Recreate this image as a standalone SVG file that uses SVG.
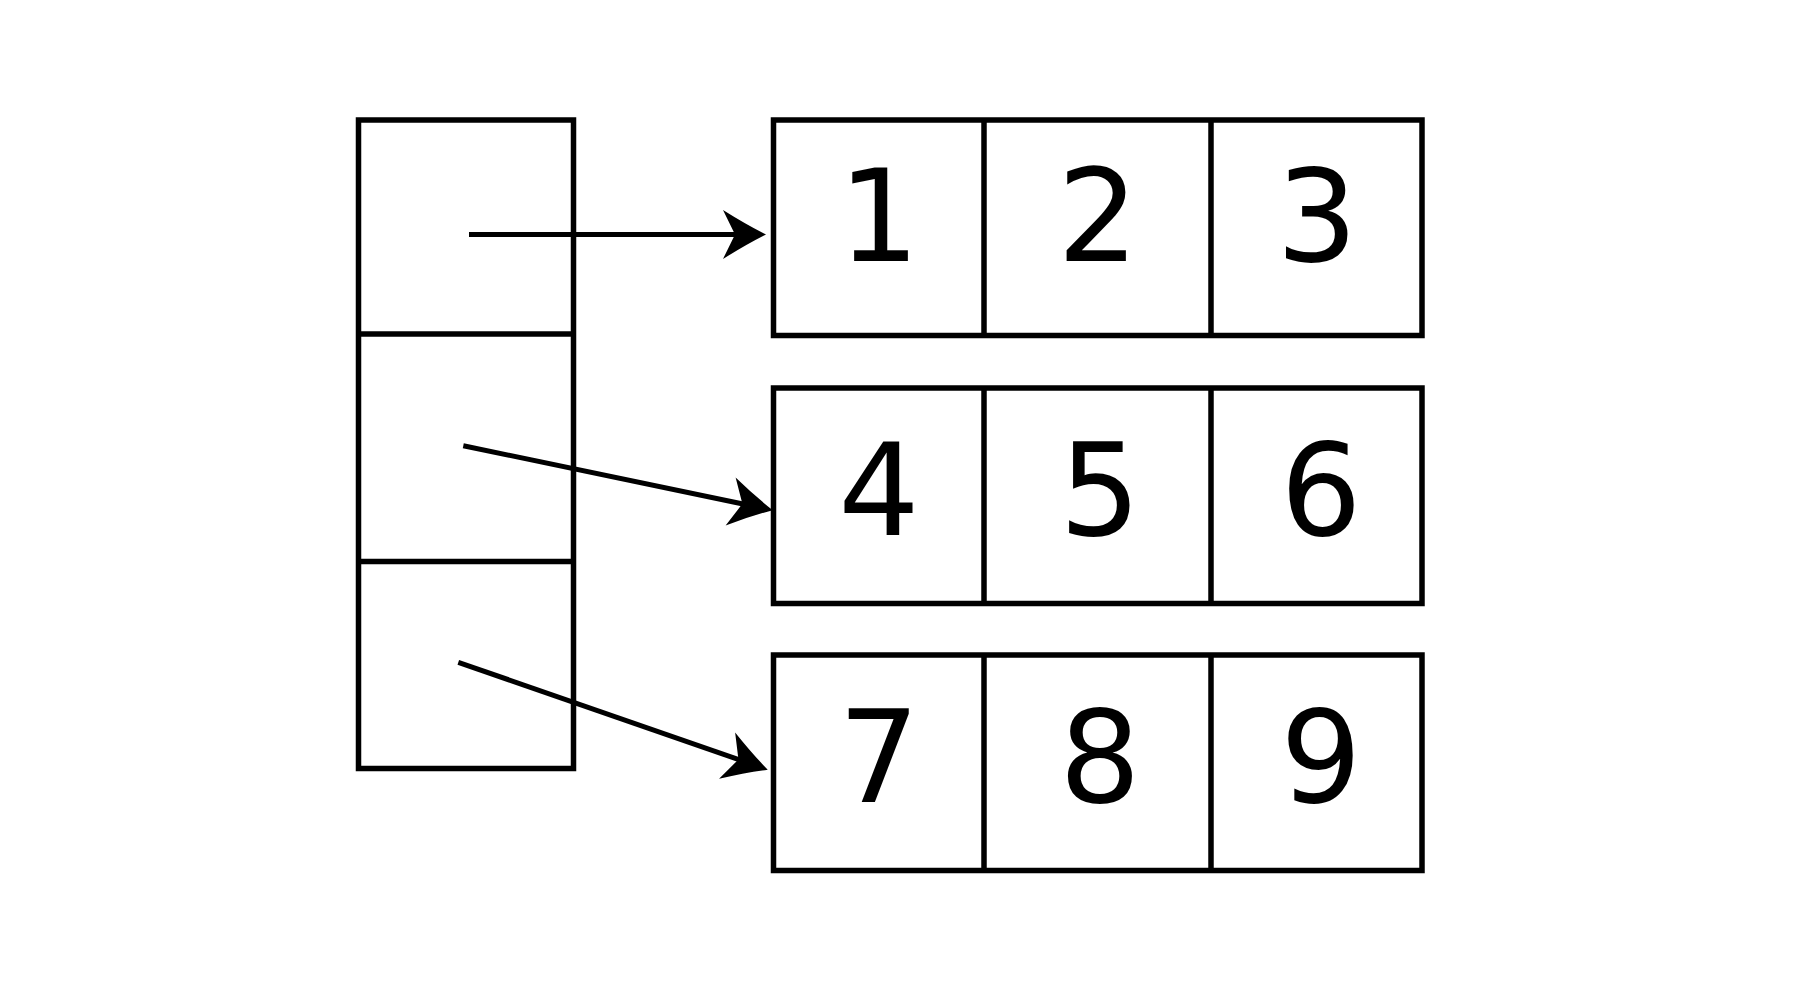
<svg xmlns="http://www.w3.org/2000/svg" width="1800" height="1000" viewBox="0 0 1800 1000">
  <style>
    .box { fill: #ffffff; stroke: #000000; stroke-width: 5.5; }
    .div { stroke: #000000; stroke-width: 5.5; fill: none; }
    .num { font-family: "DejaVu Sans", Verdana, sans-serif; font-size: 128px; fill: #000000; text-anchor: middle; }
    .conn { stroke: #000000; stroke-width: 5; fill: none; }
  </style>
  <defs>
    <marker id="arrow" markerUnits="userSpaceOnUse" markerWidth="60" markerHeight="60" viewBox="-15 -30 60 60" refX="10" refY="0" orient="auto">
      <path d="M33,0 Q13,-10 -10,-24.5 L2,0 L-10,24.5 Q13,10 33,0 Z" fill="#000000"/>
    </marker>
  </defs>
  <rect width="1800" height="1000" fill="#ffffff"/>

  <g id="pointer-array">
    <rect class="box" x="358.5" y="120" width="215" height="648.5"/>
    <line class="div" x1="358.5" y1="334" x2="573.5" y2="334"/>
    <line class="div" x1="358.5" y1="561.5" x2="573.5" y2="561.5"/>
  </g>

  <g id="row1">
    <rect class="box" x="773.5" y="120" width="648.5" height="215.5"/>
    <line class="div" x1="984" y1="120" x2="984" y2="335.5"/>
    <line class="div" x1="1211" y1="120" x2="1211" y2="335.5"/>
    <text class="num" x="879" y="261">1</text>
    <text class="num" x="1098" y="261">2</text>
    <text class="num" x="1317" y="261">3</text>
  </g>

  <g id="row2">
    <rect class="box" x="773.5" y="388" width="648.5" height="215.5"/>
    <line class="div" x1="984" y1="388" x2="984" y2="603.5"/>
    <line class="div" x1="1211" y1="388" x2="1211" y2="603.5"/>
    <text class="num" x="879" y="535">4</text>
    <text class="num" x="1100" y="535">5</text>
    <text class="num" x="1321" y="535">6</text>
  </g>

  <g id="row3">
    <rect class="box" x="773.5" y="655" width="648.5" height="215.5"/>
    <line class="div" x1="984" y1="655" x2="984" y2="870.5"/>
    <line class="div" x1="1211" y1="655" x2="1211" y2="870.5"/>
    <text class="num" x="879" y="802">7</text>
    <text class="num" x="1100" y="802">8</text>
    <text class="num" x="1321" y="802">9</text>
  </g>

  <g id="connectors">
    <line class="conn" x1="469" y1="234.5" x2="743" y2="234.5" marker-end="url(#arrow)"/>
    <line class="conn" x1="463.3" y1="445.7" x2="750.2" y2="505.5" marker-end="url(#arrow)"/>
    <line class="conn" x1="458.3" y1="662.3" x2="746" y2="762.1" marker-end="url(#arrow)"/>
  </g>
</svg>
